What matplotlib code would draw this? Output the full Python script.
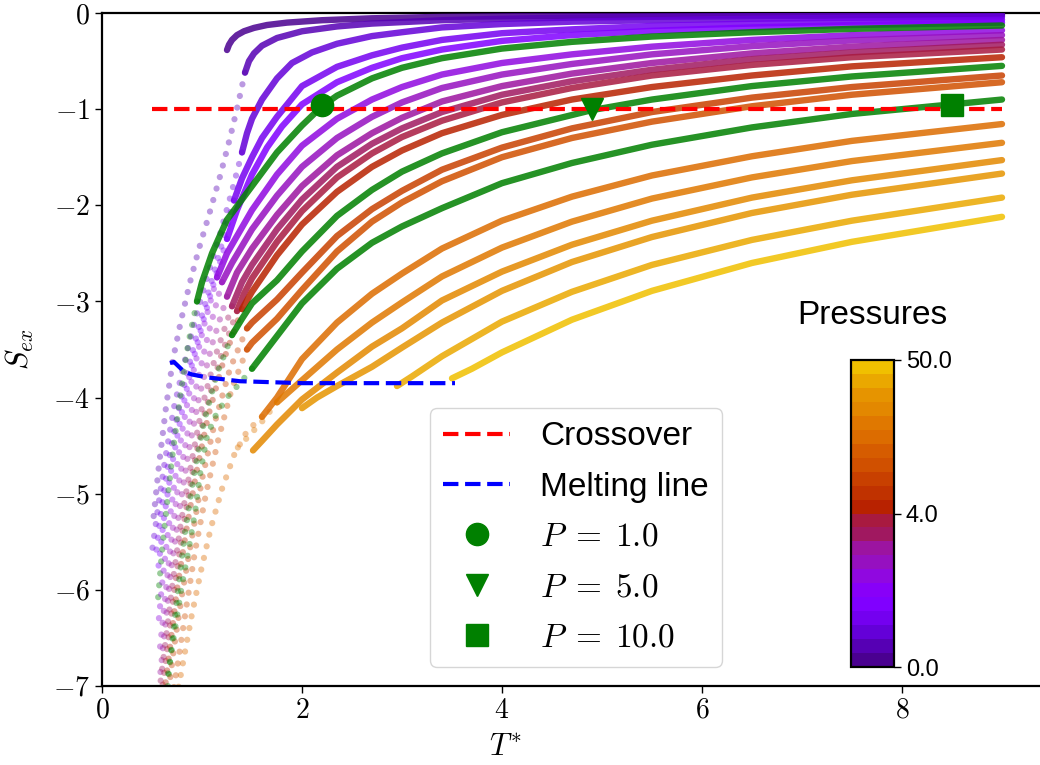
import matplotlib
matplotlib.use("Agg")
import matplotlib.pyplot as plt
from matplotlib.colors import ListedColormap, Normalize
from matplotlib.cm import ScalarMappable
from matplotlib.lines import Line2D
from matplotlib.ticker import FuncFormatter

plt.rcParams["font.family"] = ["Liberation Sans", "DejaVu Sans"]
plt.rcParams["mathtext.fontset"] = "cm"

# colour of each pressure, lowest pressure first
band_colors = ["#4a0090", "#5600b4", "#6400d8", "#7400f0", "#8000ff", "#8800f8",
               "#9008e0", "#9610c0", "#9c14a0", "#a01860", "#a81a40", "#b82200",
               "#c03200", "#c84000", "#d05000", "#d65c00", "#dc6c00", "#e07800",
               "#e38800", "#e69400", "#eaa800", "#f0c000"]
cbar_labels = ["0.0", "4.0", "50.0"]
green_curves = [5, 12, 15]          # P = 1, 5, 10 drawn in green

# dense part of every isobar, S_ex vs T*
dense_T = [
    [1.25, 1.27, 1.30, 1.35, 1.42, 1.52, 1.65, 1.85, 2.2, 2.7, 3.4, 4.7, 6.5, 9.0],
    [1.43, 1.47, 1.52, 1.6, 1.75, 2.0, 2.35, 2.7, 3.0, 3.4, 4.0, 4.7, 5.5, 6.5, 7.5, 9.0],
    [1.40, 1.45, 1.5, 1.6, 1.75, 1.9, 2.1, 2.35, 2.7, 3.0, 3.4, 4.0, 4.7, 5.5, 6.5, 7.5, 9.0],
    [1.32, 1.4, 1.5, 1.6, 1.75, 2.0, 2.35, 2.7, 3.0, 3.4, 4.0, 4.7, 5.5, 6.5, 7.5, 9.0],
    [1.25, 1.35, 1.5, 1.65, 1.8, 2.0, 2.35, 2.7, 3.0, 3.4, 4.0, 4.7, 5.5, 6.5, 7.5, 9.0],
    [0.95, 1.0, 1.1, 1.25, 1.5, 1.75, 2.0, 2.2, 2.35, 2.7, 3.0, 3.4, 4.0, 4.7, 5.5, 6.5, 7.5, 9.0],
    [1.15, 1.25, 1.5, 1.75, 2.0, 2.35, 2.7, 3.0, 3.4, 4.0, 4.7, 5.5, 6.5, 7.5, 9.0],
    [1.2, 1.3, 1.5, 1.75, 2.0, 2.35, 2.7, 3.0, 3.4, 4.0, 4.7, 5.5, 6.5, 7.5, 9.0],
    [1.25, 1.35, 1.5, 1.75, 2.0, 2.35, 2.7, 3.0, 3.4, 4.0, 4.7, 5.5, 6.5, 7.5, 9.0],
    [1.3, 1.4, 1.5, 1.75, 2.0, 2.35, 2.7, 3.0, 3.4, 4.0, 4.7, 5.5, 6.5, 7.5, 9.0],
    [1.35, 1.42, 1.5, 1.75, 2.0, 2.35, 2.7, 3.0, 3.4, 4.0, 4.7, 5.5, 6.5, 7.5, 9.0],
    [1.4, 1.5, 1.75, 2.0, 2.35, 2.7, 3.0, 3.4, 4.0, 4.7, 5.5, 6.5, 7.5, 9.0],
    [1.3, 1.4, 1.5, 1.75, 2.0, 2.35, 2.7, 3.0, 3.4, 4.0, 4.9, 5.5, 6.5, 7.5, 9.0],
    [1.45, 1.5, 1.75, 2.0, 2.35, 2.7, 3.0, 3.4, 4.0, 4.7, 5.5, 6.5, 7.5, 9.0],
    [1.45, 1.5, 1.75, 2.0, 2.35, 2.7, 3.0, 3.4, 4.0, 4.7, 5.5, 6.5, 7.5, 9.0],
    [1.5, 1.75, 2.0, 2.35, 2.7, 3.0, 3.4, 4.0, 4.7, 5.5, 6.5, 7.5, 8.5, 9.0],
    [1.6, 1.75, 2.0, 2.35, 2.7, 3.0, 3.4, 4.0, 4.7, 5.5, 6.5, 7.5, 9.0],
    [1.75, 2.0, 2.35, 2.7, 3.0, 3.4, 4.0, 4.7, 5.5, 6.5, 7.5, 9.0],
    [1.51, 1.6, 1.75, 2.0, 2.35, 2.7, 3.0, 3.4, 4.0, 4.7, 5.5, 6.5, 7.5, 9.0],
    [2.0, 2.15, 2.35, 2.7, 3.0, 3.4, 4.0, 4.7, 5.5, 6.5, 7.5, 9.0],
    [2.95, 3.1, 3.4, 4.0, 4.7, 5.5, 6.5, 7.5, 9.0],
    [3.5, 3.7, 4.0, 4.7, 5.5, 6.5, 7.5, 9.0],
]
dense_S = [
    [-0.385, -0.33, -0.28, -0.23, -0.19, -0.155, -0.125, -0.10, -0.075, -0.055, -0.04, -0.028, -0.018, -0.01],
    [-0.62, -0.5, -0.42, -0.34, -0.26, -0.19, -0.14, -0.11, -0.095, -0.075, -0.06, -0.048, -0.04, -0.033, -0.027, -0.022],
    [-1.45, -1.25, -1.1, -0.9, -0.68, -0.52, -0.41, -0.32, -0.24, -0.2, -0.15, -0.115, -0.09, -0.075, -0.06, -0.05, -0.04],
    [-1.95, -1.72, -1.5, -1.3, -1.08, -0.76, -0.56, -0.44, -0.36, -0.28, -0.21, -0.17, -0.135, -0.11, -0.09, -0.07],
    [-2.35, -2.05, -1.68, -1.4, -1.18, -0.95, -0.72, -0.57, -0.47, -0.38, -0.29, -0.23, -0.185, -0.15, -0.125, -0.10],
    [-3.0, -2.8, -2.5, -2.15, -1.8, -1.45, -1.17, -0.97, -0.86, -0.68, -0.57, -0.47, -0.37, -0.30, -0.245, -0.20, -0.165, -0.13],
    [-2.75, -2.5, -2.05, -1.68, -1.38, -1.1, -0.9, -0.77, -0.64, -0.52, -0.43, -0.35, -0.28, -0.23, -0.18],
    [-2.8, -2.6, -2.25, -1.9, -1.6, -1.3, -1.08, -0.93, -0.78, -0.64, -0.53, -0.43, -0.345, -0.285, -0.23],
    [-2.95, -2.7, -2.45, -2.1, -1.8, -1.48, -1.25, -1.09, -0.92, -0.76, -0.63, -0.52, -0.42, -0.35, -0.28],
    [-3.05, -2.8, -2.62, -2.25, -1.94, -1.6, -1.36, -1.2, -1.03, -0.85, -0.71, -0.59, -0.48, -0.41, -0.33],
    [-3.1, -2.92, -2.76, -2.38, -2.06, -1.71, -1.46, -1.29, -1.12, -0.93, -0.78, -0.65, -0.54, -0.46, -0.38],
    [-3.08, -2.9, -2.52, -2.2, -1.86, -1.6, -1.43, -1.25, -1.06, -0.9, -0.77, -0.65, -0.555, -0.46],
    [-3.35, -3.18, -3.02, -2.78, -2.48, -2.11, -1.84, -1.65, -1.46, -1.24, -1.01, -0.9, -0.76, -0.66, -0.55],
    [-3.28, -3.22, -2.98, -2.7, -2.32, -2.04, -1.85, -1.63, -1.4, -1.2, -1.03, -0.88, -0.77, -0.65],
    [-3.5, -3.43, -3.18, -2.88, -2.48, -2.17, -1.97, -1.75, -1.5, -1.3, -1.13, -0.97, -0.85, -0.72],
    [-3.7, -3.36, -3.02, -2.66, -2.39, -2.22, -2.03, -1.77, -1.56, -1.37, -1.19, -1.05, -0.95, -0.9],
    [-4.2, -4.0, -3.6, -3.22, -2.92, -2.71, -2.45, -2.16, -1.91, -1.69, -1.49, -1.33, -1.155],
    [-4.05, -3.82, -3.5, -3.22, -3.01, -2.74, -2.44, -2.17, -1.93, -1.71, -1.54, -1.35],
    [-4.55, -4.45, -4.28, -4.02, -3.74, -3.47, -3.28, -2.99, -2.69, -2.41, -2.16, -1.92, -1.74, -1.53],
    [-4.11, -4.0, -3.88, -3.68, -3.48, -3.22, -2.89, -2.59, -2.33, -2.08, -1.89, -1.67],
    [-3.88, -3.78, -3.57, -3.21, -2.90, -2.62, -2.36, -2.16, -1.92],
    [-3.80, -3.70, -3.53, -3.19, -2.89, -2.60, -2.38, -2.12],
]

# sparse low-temperature tails (faint dots)
tail_T = [
    [],
    [1.43, 1.36, 1.28, 1.18, 1.07, 0.97, 0.88, 0.79, 0.71, 0.64, 0.57, 0.51],
    [1.40, 1.30, 1.18, 1.05, 0.93, 0.82, 0.72, 0.63, 0.56, 0.50],
    [1.32, 1.2, 1.08, 0.96, 0.85, 0.75, 0.66, 0.59, 0.53],
    [1.25, 1.12, 1.0, 0.89, 0.79, 0.7, 0.62, 0.56],
    [0.95, 0.86, 0.78, 0.71, 0.65, 0.6, 0.56],
    [1.15, 1.02, 0.91, 0.81, 0.73, 0.66, 0.6, 0.56],
    [1.2, 1.06, 0.94, 0.84, 0.75, 0.68, 0.62, 0.57],
    [1.25, 1.1, 0.97, 0.86, 0.77, 0.69, 0.63, 0.58],
    [1.3, 1.14, 1.0, 0.89, 0.79, 0.71, 0.64, 0.58],
    [1.35, 1.18, 1.03, 0.91, 0.81, 0.73, 0.66, 0.6],
    [1.4, 1.22, 1.06, 0.94, 0.84, 0.75, 0.68, 0.62],
    [1.3, 1.15, 1.02, 0.92, 0.83, 0.76, 0.7, 0.65],
    [1.45, 1.28, 1.13, 1.0, 0.9, 0.8, 0.72, 0.66],
    [1.45, 1.3, 1.16, 1.04, 0.93, 0.84, 0.76, 0.69],
    [1.5, 1.38, 1.25, 1.14, 1.05, 0.98, 0.93, 0.86, 0.8, 0.75, 0.7, 0.65],
    [1.6, 1.45, 1.32, 1.2, 1.09, 0.99, 0.9, 0.82, 0.75],
    [1.75, 1.6, 1.45, 1.33],
    [], [], [], [],
]
tail_S = [
    [],
    [-0.62, -0.95, -1.3, -1.7, -2.1, -2.45, -2.8, -3.2, -3.6, -4.1, -4.7, -5.3],
    [-1.45, -1.85, -2.3, -2.75, -3.2, -3.65, -4.1, -4.65, -5.15, -5.6],
    [-1.95, -2.4, -2.85, -3.3, -3.75, -4.2, -4.7, -5.2, -5.7],
    [-2.35, -2.8, -3.25, -3.7, -4.2, -4.7, -5.25, -5.8],
    [-3.0, -3.45, -4.0, -4.55, -5.1, -5.6, -6.1],
    [-2.75, -3.25, -3.75, -4.3, -4.85, -5.4, -5.95, -6.4],
    [-2.8, -3.35, -3.9, -4.45, -5.0, -5.6, -6.2, -6.7],
    [-2.95, -3.45, -4.0, -4.6, -5.2, -5.8, -6.4, -6.9],
    [-3.05, -3.55, -4.1, -4.7, -5.3, -5.9, -6.5, -7.0],
    [-3.1, -3.6, -4.15, -4.75, -5.35, -5.95, -6.55, -7.05],
    [-3.08, -3.6, -4.2, -4.8, -5.4, -6.0, -6.6, -7.1],
    [-3.35, -3.75, -4.25, -4.8, -5.4, -6.0, -6.55, -7.1],
    [-3.28, -3.7, -4.25, -4.85, -5.45, -6.05, -6.6, -7.1],
    [-3.5, -3.9, -4.45, -5.0, -5.6, -6.2, -6.75, -7.2],
    [-3.7, -3.85, -4.0, -4.18, -4.4, -4.8, -5.2, -5.62, -5.95, -6.28, -6.6, -6.94],
    [-4.2, -4.35, -4.6, -4.95, -5.35, -5.8, -6.25, -6.7, -7.1],
    [-4.05, -4.25, -4.42, -4.55],
    [], [], [], [],
]

crossover_T = [0.5, 9.0]
crossover_S = [-1.0, -1.0]
melt_T = [0.68, 0.72, 0.76, 0.82, 0.9, 1.05, 1.38, 2.0, 3.0, 3.53]
melt_S = [-3.64, -3.63, -3.67, -3.73, -3.76, -3.79, -3.83, -3.85, -3.85, -3.85]
marker_T = [2.2, 4.9, 8.5]
marker_S = [-0.96, -1.0, -0.96]
marker_shapes = ["o", "v", "s"]
marker_labels = [r"$P\;=\;1.0$", r"$P\;=\;5.0$", r"$P\;=\;10.0$"]

fig = plt.figure(figsize=(10.4, 7.65), dpi=100)
ax = fig.add_axes([102 / 1040, 79 / 765, 938 / 1040, 673 / 765])

for i in range(len(dense_T)):
    col = "green" if i in green_curves else band_colors[i]
    if tail_T[i]:
        ax.plot(tail_T[i], tail_S[i], color=col, lw=4.5, alpha=0.4,
                ls=(0, (0.01, 1.9)), dash_capstyle="round", zorder=2)
    ax.plot(dense_T[i], dense_S[i], color=col, lw=4.6, alpha=0.85,
            solid_capstyle="round", solid_joinstyle="round",
            zorder=3.5 if i in green_curves else 3)

ax.plot(crossover_T, crossover_S, color="red", ls="--", lw=3, zorder=5)
ax.plot(melt_T, melt_S, color="blue", ls="--", lw=3, zorder=5)
for t, s, m in zip(marker_T, marker_S, marker_shapes):
    ax.plot(t, s, marker=m, color="green", ms=16, ls="none", zorder=6)

ax.set_xlim(0, 9.38)
ax.set_ylim(-7, 0)
ax.set_xticks([0, 2, 4, 6, 8])
ax.set_yticks(range(-7, 1))
fmt = FuncFormatter(lambda v, p: f"${v:g}$")
ax.xaxis.set_major_formatter(fmt)
ax.yaxis.set_major_formatter(fmt)
ax.tick_params(labelsize=20, length=5, width=1)
ax.spines["right"].set_visible(False)
for sp in ("left", "bottom", "top"):
    ax.spines[sp].set_linewidth(1.6)
ax.set_xlabel("$T^{*}$", fontsize=22)
ax.set_ylabel("$S_{ex}$", fontsize=22)
ax.xaxis.set_label_coords(0.43, -0.07)
ax.yaxis.set_label_coords(-0.07, 0.5)

handles = [Line2D([], [], color="red", ls="--", lw=3),
           Line2D([], [], color="blue", ls="--", lw=3)]
handles += [Line2D([], [], color="green", marker=m, ms=16, ls="none")
            for m in marker_shapes]
labels = ["Crossover", "Melting line"] + marker_labels
fig.legend(handles, labels, loc="lower left", fontsize=24,
           bbox_to_anchor=(430 / 1040, 98 / 765), borderaxespad=0,
           numpoints=1, labelspacing=0.58, handletextpad=0.9)

cax = fig.add_axes([851 / 1040, 98 / 765, 43 / 1040, 307 / 765])
n = len(band_colors)
sm = ScalarMappable(norm=Normalize(0, n), cmap=ListedColormap(band_colors))
cb = fig.colorbar(sm, cax=cax)
cb.set_ticks([0, n / 2, n])
cb.set_ticklabels(cbar_labels)
cb.ax.tick_params(labelsize=17, length=5, width=1)
cb.outline.set_linewidth(1.6)
cax.set_title("Pressures", fontsize=24, pad=26)

fig.savefig("out.png", dpi=100)
